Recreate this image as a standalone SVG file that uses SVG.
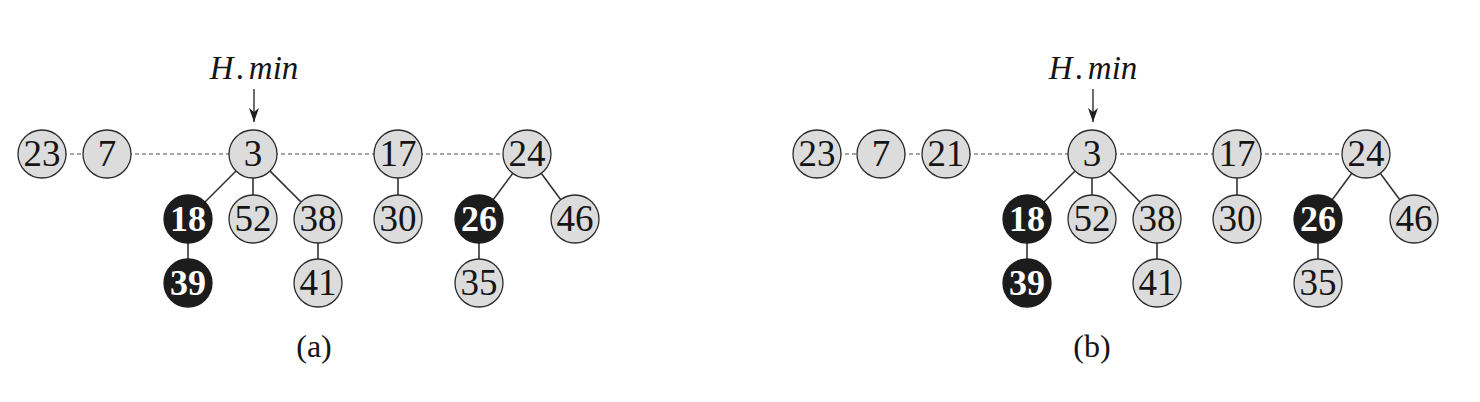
<svg xmlns="http://www.w3.org/2000/svg" width="1480" height="402" viewBox="0 0 1480 402">
<style>
.bg{fill:#ffffff}
.n circle{fill:#dcdcdc;stroke:#2b2b2b;stroke-width:1.3}
.n text{font-family:"Liberation Serif","Times New Roman",serif;font-size:37px;fill:#151515;text-anchor:middle}
.b circle{fill:#1c1c1c;stroke:#1c1c1c;stroke-width:1.3}
.b text{font-family:"Liberation Serif","Times New Roman",serif;font-size:36px;font-weight:bold;fill:#ffffff;text-anchor:middle}
.dash{stroke:#8a8a8a;stroke-width:1.6;stroke-dasharray:4 3;fill:none}
.edge{stroke:#333333;stroke-width:1.6;fill:none}
.ptr{stroke:#1e1e1e;stroke-width:1.3;fill:none}
.lbl{font-family:"Liberation Serif","Times New Roman",serif;font-size:33px;font-style:italic;fill:#151515;text-anchor:middle}
.cap{font-family:"Liberation Serif","Times New Roman",serif;font-size:32px;fill:#151515;text-anchor:middle}
</style>
<defs>
<marker id="ah" viewBox="0 0 14 20" refX="14" refY="10" markerWidth="14" markerHeight="20" markerUnits="userSpaceOnUse" orient="auto">
<path d="M0,5 L14,10 L0,15 L4,10 Z" fill="#1e1e1e"/>
</marker>
</defs>
<rect class="bg" x="0" y="0" width="1480" height="402"/>
<g id="connectors">
<line class="dash" x1="42" y1="154" x2="107" y2="154"/>
<line class="dash" x1="107" y1="154" x2="253" y2="154"/>
<line class="dash" x1="253" y1="154" x2="398" y2="154"/>
<line class="dash" x1="398" y1="154" x2="527" y2="154"/>
<line class="edge" x1="253" y1="154" x2="188" y2="219"/>
<line class="edge" x1="253" y1="154" x2="253" y2="219"/>
<line class="edge" x1="253" y1="154" x2="318" y2="219"/>
<line class="edge" x1="188" y1="219" x2="188" y2="283"/>
<line class="edge" x1="318" y1="219" x2="318" y2="283"/>
<line class="edge" x1="398" y1="154" x2="398" y2="219"/>
<line class="edge" x1="527" y1="154" x2="479" y2="219"/>
<line class="edge" x1="527" y1="154" x2="575" y2="219"/>
<line class="edge" x1="479" y1="219" x2="479" y2="283"/>
<line class="ptr" x1="254" y1="89" x2="254" y2="122" marker-end="url(#ah)"/>
<line class="dash" x1="817" y1="154" x2="881" y2="154"/>
<line class="dash" x1="881" y1="154" x2="946" y2="154"/>
<line class="dash" x1="946" y1="154" x2="1092" y2="154"/>
<line class="dash" x1="1092" y1="154" x2="1237" y2="154"/>
<line class="dash" x1="1237" y1="154" x2="1366" y2="154"/>
<line class="edge" x1="1092" y1="154" x2="1027" y2="219"/>
<line class="edge" x1="1092" y1="154" x2="1092" y2="219"/>
<line class="edge" x1="1092" y1="154" x2="1157" y2="219"/>
<line class="edge" x1="1027" y1="219" x2="1027" y2="283"/>
<line class="edge" x1="1157" y1="219" x2="1157" y2="283"/>
<line class="edge" x1="1237" y1="154" x2="1237" y2="219"/>
<line class="edge" x1="1366" y1="154" x2="1318" y2="219"/>
<line class="edge" x1="1366" y1="154" x2="1414" y2="219"/>
<line class="edge" x1="1318" y1="219" x2="1318" y2="283"/>
<line class="ptr" x1="1093" y1="89" x2="1093" y2="122" marker-end="url(#ah)"/>
</g>
<g id="a-23" class="n"><circle cx="42" cy="154" r="24"/><text x="42" y="166">23</text></g>
<g id="a-7" class="n"><circle cx="107" cy="154" r="24"/><text x="107" y="166">7</text></g>
<g id="a-3" class="n"><circle cx="253" cy="154" r="24"/><text x="253" y="166">3</text></g>
<g id="a-17" class="n"><circle cx="398" cy="154" r="24"/><text x="398" y="166">17</text></g>
<g id="a-24" class="n"><circle cx="527" cy="154" r="24"/><text x="527" y="166">24</text></g>
<g id="a-18" class="b"><circle cx="188" cy="219" r="24"/><text x="188" y="231">18</text></g>
<g id="a-52" class="n"><circle cx="253" cy="219" r="24"/><text x="253" y="231">52</text></g>
<g id="a-38" class="n"><circle cx="318" cy="219" r="24"/><text x="318" y="231">38</text></g>
<g id="a-30" class="n"><circle cx="398" cy="219" r="24"/><text x="398" y="231">30</text></g>
<g id="a-26" class="b"><circle cx="479" cy="219" r="24"/><text x="479" y="231">26</text></g>
<g id="a-46" class="n"><circle cx="575" cy="219" r="24"/><text x="575" y="231">46</text></g>
<g id="a-39" class="b"><circle cx="188" cy="283" r="24"/><text x="188" y="295">39</text></g>
<g id="a-41" class="n"><circle cx="318" cy="283" r="24"/><text x="318" y="295">41</text></g>
<g id="a-35" class="n"><circle cx="479" cy="283" r="24"/><text x="479" y="295">35</text></g>
<g id="a-hmin"><text class="lbl" x="254" y="79">H<tspan dx="3">.</tspan><tspan dx="4">min</tspan></text></g>
<g id="a-caption"><text class="cap" x="314" y="357">(a)</text></g>
<g id="b-23" class="n"><circle cx="817" cy="154" r="24"/><text x="817" y="166">23</text></g>
<g id="b-7" class="n"><circle cx="881" cy="154" r="24"/><text x="881" y="166">7</text></g>
<g id="b-21" class="n"><circle cx="946" cy="154" r="24"/><text x="946" y="166">21</text></g>
<g id="b-3" class="n"><circle cx="1092" cy="154" r="24"/><text x="1092" y="166">3</text></g>
<g id="b-17" class="n"><circle cx="1237" cy="154" r="24"/><text x="1237" y="166">17</text></g>
<g id="b-24" class="n"><circle cx="1366" cy="154" r="24"/><text x="1366" y="166">24</text></g>
<g id="b-18" class="b"><circle cx="1027" cy="219" r="24"/><text x="1027" y="231">18</text></g>
<g id="b-52" class="n"><circle cx="1092" cy="219" r="24"/><text x="1092" y="231">52</text></g>
<g id="b-38" class="n"><circle cx="1157" cy="219" r="24"/><text x="1157" y="231">38</text></g>
<g id="b-30" class="n"><circle cx="1237" cy="219" r="24"/><text x="1237" y="231">30</text></g>
<g id="b-26" class="b"><circle cx="1318" cy="219" r="24"/><text x="1318" y="231">26</text></g>
<g id="b-46" class="n"><circle cx="1414" cy="219" r="24"/><text x="1414" y="231">46</text></g>
<g id="b-39" class="b"><circle cx="1027" cy="283" r="24"/><text x="1027" y="295">39</text></g>
<g id="b-41" class="n"><circle cx="1157" cy="283" r="24"/><text x="1157" y="295">41</text></g>
<g id="b-35" class="n"><circle cx="1318" cy="283" r="24"/><text x="1318" y="295">35</text></g>
<g id="b-hmin"><text class="lbl" x="1093" y="79">H<tspan dx="3">.</tspan><tspan dx="4">min</tspan></text></g>
<g id="b-caption"><text class="cap" x="1092" y="357">(b)</text></g>
</svg>
